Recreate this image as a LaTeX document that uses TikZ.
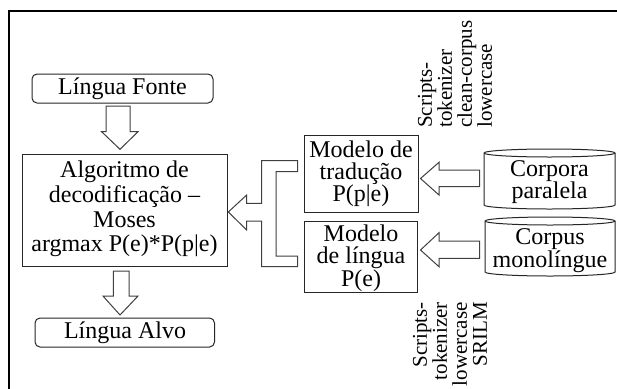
\documentclass[tikz,border=0pt]{standalone}
\usepackage{fontspec}
\setmainfont{Liberation Serif}
\begin{document}
\begin{tikzpicture}[x=1pt,y=-1pt,
  box/.style={draw=black!85,line width=1pt,inner sep=0pt},
  harrow/.style={draw=black!75,line width=1pt,fill=white,line join=miter},
  txt/.style={font=\fontsize{24}{22}\selectfont,align=center,inner sep=0pt},
  side/.style={font=\fontsize{21}{20}\selectfont,inner sep=0pt,rotate=90}]
\useasboundingbox (0,0) rectangle (617,388);
\fill[white] (0,0) rectangle (617,388);
% frame
\draw[line width=1.2pt] (9,390) -- (9,11) -- (620,11);
% boxes
\draw[box,rounded corners=5pt] (32,74) rectangle (213,103);
\node[txt] (fonte) at (122.5,89) {Língua Fonte};
\draw[box] (22.5,154) rectangle (227,266);
\node[txt,font=\fontsize{24}{24.8}\selectfont] (alg) at (124.5,209) {Algoritmo de\\decodificação –\\Moses\\argmax P(e)*P(p|e)};
\draw[box,rounded corners=5pt] (35,318) rectangle (214.5,347);
\node[txt] (alvo) at (125,333) {Língua Alvo};
\draw[box] (304,135) rectangle (418,212);
\node[txt,font=\fontsize{24}{21.7}\selectfont] (trad) at (361,174) {Modelo de\\tradução\\P(p|e)};
\draw[box] (304,221) rectangle (417,292);
\node[txt,font=\fontsize{24}{21.7}\selectfont] (ling) at (361,258) {Modelo\\de língua\\P(e)};
% cylinders
\foreach \xa/\xb/\ya/\yb in {484/615/149/209, 485/615/217/276}{
  \draw[box,fill=white] (\xa,\ya+4) -- (\xa,\yb-4) arc[start angle=180,end angle=0,x radius={(\xb-\xa)/2},y radius=4]
     -- (\xb,\ya+4) arc[start angle=0,end angle=-180,x radius={(\xb-\xa)/2},y radius=4] -- cycle;
  \draw[box] (\xa,\ya+4) arc[start angle=180,end angle=0,x radius={(\xb-\xa)/2},y radius=4];
}
\node[txt,font=\fontsize{24}{21}\selectfont] (par) at (549.5,182) {Corpora\\paralela};
\node[txt,font=\fontsize{24}{21}\selectfont] (mono) at (550,250.5) {Corpus\\monolíngue};
% down arrows
\draw[harrow] (106,106) -- (130,106) -- (130,131.7) -- (138,131.7) -- (120,149.3) -- (101.6,131.7) -- (106,131.7) -- cycle;
\draw[harrow] (113.4,271) -- (129,271) -- (129,296) -- (138,296) -- (120,315) -- (103,296) -- (113.4,296) -- cycle;
% horizontal arrows
\draw[harrow] (479.5,170) -- (479.5,186.7) -- (439,186.7) -- (439,195) -- (420.5,178.5) -- (439,162.3) -- (439,170) -- cycle;
\draw[harrow] (479.5,241) -- (479.5,258.3) -- (439,258.3) -- (439,266.7) -- (420.5,250) -- (439,232.7) -- (439,241) -- cycle;
% bracket arrow
\draw[harrow] (297.7,160.7) -- (261.7,160.7) -- (261.7,203.3) -- (246.7,203.3) -- (246.7,195) -- (228.3,212)
  -- (246.7,230) -- (246.7,221) -- (261.7,221) -- (261.7,266.7) -- (297.7,266.7) -- (297.7,256) -- (276,256)
  -- (276,171.7) -- (297.7,171.7) -- cycle;
% side texts
\node[side,align=left,anchor=west] (s1) at (455,128) {Scripts-\\tokenizer\\clean-corpus\\lowercase};
\node[side,align=right,anchor=east] (s2) at (450,302) {Scripts-\\tokenizer\\lowercase\\SRILM};
\end{tikzpicture}
\end{document}
